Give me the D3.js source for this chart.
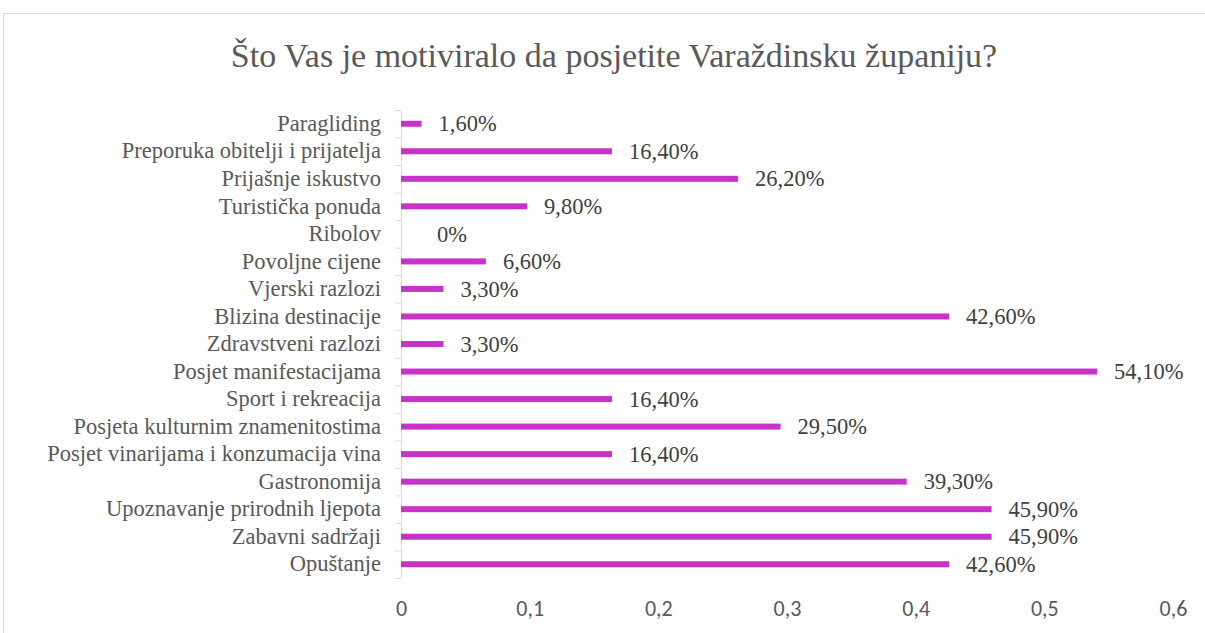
<!DOCTYPE html>
<html>
<head>
<meta charset="utf-8">
<script src="https://cdn.jsdelivr.net/npm/d3@7"></script>
</head>
<body style="margin:0">
<div id="chart"></div>
<script>
// chart data, top to bottom
var categories = [
  "Paragliding",
  "Preporuka obitelji i prijatelja",
  "Prijašnje iskustvo",
  "Turistička ponuda",
  "Ribolov",
  "Povoljne cijene",
  "Vjerski razlozi",
  "Blizina destinacije",
  "Zdravstveni razlozi",
  "Posjet manifestacijama",
  "Sport i rekreacija",
  "Posjeta kulturnim znamenitostima",
  "Posjet vinarijama i konzumacija vina",
  "Gastronomija",
  "Upoznavanje prirodnih ljepota",
  "Zabavni sadržaji",
  "Opuštanje"
];
var values = [0.016, 0.164, 0.262, 0.098, 0, 0.066, 0.033, 0.426, 0.033, 0.541, 0.164, 0.295, 0.164, 0.393, 0.459, 0.459, 0.426];
var valueLabels = ["1,60%", "16,40%", "26,20%", "9,80%", "0%", "6,60%", "3,30%", "42,60%", "3,30%", "54,10%", "16,40%", "29,50%", "16,40%", "39,30%", "45,90%", "45,90%", "42,60%"];
var tickValues = [0, 0.1, 0.2, 0.3, 0.4, 0.5, 0.6];
var tickLabels = ["0", "0,1", "0,2", "0,3", "0,4", "0,5", "0,6"];
var title = "Što Vas je motiviralo da posjetite Varaždinsku županiju?";

var serifFont = '"Liberation Serif"';
var tickFont = '"Carlito"';

var svgWidth = 1205;
var svgHeight = 633;

var margin = { top: 110, right: 32, bottom: 55, left: 401 };
var width = svgWidth - margin.left - margin.right;
var height = svgHeight - margin.top - margin.bottom;

var svg = d3.select("#chart")
  .append("svg")
  .attr("width", svgWidth)
  .attr("height", svgHeight);

// chart frame
svg.append("rect")
  .attr("x", 3.5)
  .attr("y", 13.5)
  .attr("width", svgWidth + 10)
  .attr("height", svgHeight + 10)
  .attr("fill", "none")
  .attr("stroke", "#d9d9d9");

svg.append("text")
  .attr("x", 614)
  .attr("y", 67)
  .attr("text-anchor", "middle")
  .style("font-family", serifFont)
  .style("font-size", "34px")
  .style("fill", "#595959")
  .text(title);

var chartGroup = svg.append("g")
  .attr("transform", `translate(${margin.left}, ${margin.top})`);

var xScale = d3.scaleLinear()
  .domain([0, 0.6])
  .range([0, width]);

var yScale = d3.scaleBand()
  .domain(categories)
  .range([0, height]);

// category axis, ticks sit between bands
var leftAxis = d3.axisLeft(yScale).tickSize(0).tickPadding(20);
var yAxis = chartGroup.append("g").call(leftAxis);
yAxis.select(".domain").attr("stroke", "#d9d9d9");
yAxis.selectAll("text")
  .style("font-family", serifFont)
  .style("font-size", "22.5px")
  .style("fill", "#595959");

var bounds = categories.map(c => yScale(c)).concat([height]);
chartGroup.selectAll(".sep")
  .data(bounds)
  .enter()
  .append("line")
  .attr("x1", -6)
  .attr("x2", 0)
  .attr("y1", d => d + 0.5)
  .attr("y2", d => d + 0.5)
  .attr("stroke", "#d9d9d9");

// value axis: labels only
var bottomAxis = d3.axisBottom(xScale)
  .tickValues(tickValues)
  .tickFormat((d, i) => tickLabels[i])
  .tickSize(0)
  .tickPadding(22);
var xAxis = chartGroup.append("g")
  .attr("transform", `translate(0, ${height})`)
  .call(bottomAxis);
xAxis.select(".domain").remove();
xAxis.selectAll("text")
  .style("font-family", tickFont)
  .style("font-size", "22px")
  .style("fill", "#595959");

var barH = 6;
chartGroup.selectAll(".bar")
  .data(values)
  .enter()
  .append("rect")
  .attr("x", xScale(0))
  .attr("y", (d, i) => yScale(categories[i]) + yScale.bandwidth() / 2 - barH / 2)
  .attr("width", d => xScale(d) - xScale(0))
  .attr("height", barH)
  .attr("fill", "#c832c8");

chartGroup.selectAll(".val")
  .data(values)
  .enter()
  .append("text")
  .attr("x", d => xScale(d) + (d > 0 ? 17 : 36))
  .attr("y", (d, i) => yScale(categories[i]) + yScale.bandwidth() / 2)
  .attr("dy", "0.34em")
  .style("font-family", serifFont)
  .style("font-size", "22.5px")
  .style("fill", "#404040")
  .text((d, i) => valueLabels[i]);
</script>
</body>
</html>
